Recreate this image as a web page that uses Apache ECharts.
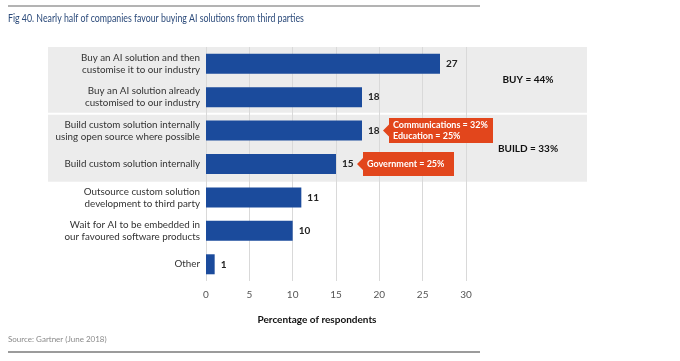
<!DOCTYPE html>
<html>
<head>
<meta charset="utf-8">
<script src="https://cdn.jsdelivr.net/npm/echarts@6/dist/echarts.min.js"></script>
<style>html,body{margin:0;padding:0;background:#fff;}#c{width:680px;height:361px;}</style>
</head>
<body>
<div id="c"></div>
<script>
var categories = [
  "Buy an AI solution and then\ncustomise it to our industry",
  "Buy an AI solution already\ncustomised to our industry",
  "Build custom solution internally\nusing open source where possible",
  "Build custom solution internally",
  "Outsource custom solution\ndevelopment to third party",
  "Wait for AI to be embedded in\nour favoured software products",
  "Other"
];
var values = [27, 18, 18, 15, 11, 10, 1];
var tickLabels = [0, 5, 10, 15, 20, 25, 30];
var groups = [
  {label: "BUY = 44%", from: 0, to: 1},
  {label: "BUILD = 33%", from: 2, to: 3}
];
var callouts = [
  {cat: 2, text: "Communications = 32%\nEducation = 25%"},
  {cat: 3, text: "Government = 25%"}
];

var FONT = "Lato, 'Open Sans', sans-serif";
var chart = echarts.init(document.getElementById('c'));

var option = {
  animation: false,
  grid: {left: 206, right: 214, top: 47, bottom: 80, containLabel: false},
  xAxis: {
    type: 'value', min: 0, max: 30, interval: 5,
    axisLine: {show: false}, axisTick: {show: false},
    splitLine: {show: true, lineStyle: {color: '#d9d9d9', width: 1}},
    axisLabel: {color: '#555', fontSize: 10, fontFamily: FONT, margin: 9,
      formatter: function (v) { return tickLabels.indexOf(v) >= 0 ? String(v) : ''; }}
  },
  yAxis: {
    type: 'category', data: categories, inverse: true,
    axisLine: {show: false}, axisTick: {show: false},
    axisLabel: {color: '#333', fontSize: 9.8, fontFamily: FONT, margin: 6, lineHeight: 12, align: 'right'}
  },
  series: [{
    type: 'bar', data: values, barWidth: 20,
    itemStyle: {color: '#1b4b9c'},
    label: {show: true, position: 'right', distance: 6, color: '#222', fontWeight: 'bold', fontSize: 10, fontFamily: FONT},
    z: 3
  }],
  graphic: []
};
chart.setOption(option);

function build() {
  var g = [];
  var y0 = chart.convertToPixel({yAxisIndex: 0}, categories[0]);
  var y1 = chart.convertToPixel({yAxisIndex: 0}, categories[1]);
  var step = y1 - y0;
  groups.forEach(function (gr, i) {
    var top = chart.convertToPixel({yAxisIndex: 0}, categories[gr.from]) - step / 2 + (i > 0 ? 1 : 0);
    var bot = chart.convertToPixel({yAxisIndex: 0}, categories[gr.to]) + step / 2 - (i === 0 ? 1 : 0) + (i > 0 ? 1 : 0);
    g.push({type: 'rect', shape: {x: 48, y: top, width: 539, height: bot - top}, style: {fill: '#ececec'}, z: -10, silent: true});
    g.push({type: 'text', x: 528, y: (top + bot) / 2, style: {text: gr.label, fill: '#111', font: 'bold 10px ' + FONT, textAlign: 'center', textVerticalAlign: 'middle'}, z: 5});
  });
  callouts.forEach(function (c) {
    var cy = chart.convertToPixel({yAxisIndex: 0}, categories[c.cat]);
    var cx = chart.convertToPixel({xAxisIndex: 0}, values[c.cat]);
    var tip = cx + 21;
    var lines = c.text.split('\n').length;
    var h = lines > 1 ? 25 : 24;
    var w = lines > 1 ? 104 : 91;
    var bx = tip + 6;
    var top = cy - h / 2;
    g.push({type: 'polygon', shape: {points: [[tip, cy], [bx, cy - 6], [bx, top], [bx + w, top], [bx + w, top + h], [bx, top + h], [bx, cy + 6]]},
      style: {fill: '#e2461c'}, z: 6});
    g.push({type: 'text', x: bx + 4, y: cy, style: {text: c.text, fill: '#fff', font: 'bold 9px ' + FONT, textVerticalAlign: 'middle', lineHeight: 10.5}, z: 7});
  });
  g.push({type: 'line', shape: {x1: 8, y1: 6, x2: 480, y2: 6}, style: {stroke: '#9a9a9a', lineWidth: 1.5}});
  g.push({type: 'line', shape: {x1: 8, y1: 352, x2: 480, y2: 352}, style: {stroke: '#7a7a7a', lineWidth: 1.5}});
  g.push({type: 'text', x: 8, y: 19, scaleX: 0.835, style: {text: 'Fig 40. Nearly half of companies favour buying AI solutions from third parties', fill: '#2b4a7a', font: '10.5px ' + FONT, textVerticalAlign: 'middle'}});
  g.push({type: 'text', x: 8, y: 339, style: {text: 'Source: Gartner (June 2018)', fill: '#8a8a8a', font: '8px ' + FONT, textVerticalAlign: 'middle'}});
  g.push({type: 'text', x: 317, y: 320, style: {text: 'Percentage of respondents', fill: '#111', font: 'bold 10px ' + FONT, textAlign: 'center', textVerticalAlign: 'middle'}});
  chart.setOption({graphic: g});
}
build();
</script>
</body>
</html>
